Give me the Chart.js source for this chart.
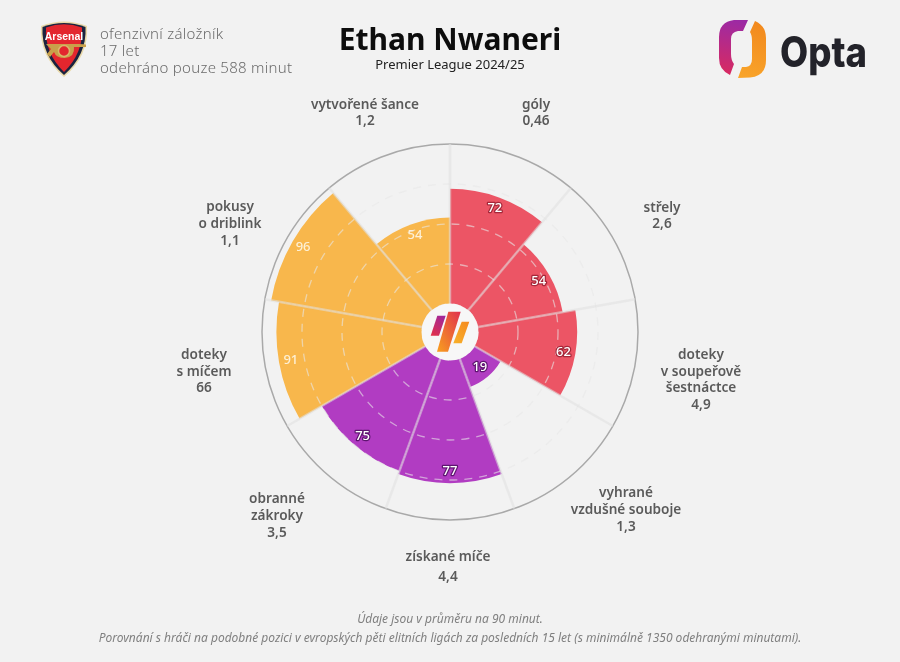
<!DOCTYPE html>
<html lang="cs"><head><meta charset="utf-8">
<script src="https://cdn.jsdelivr.net/npm/chart.js@4"></script>
<style>
html,body{margin:0;padding:0;background:#f2f2f2;width:900px;height:662px;overflow:hidden}
#wrap{position:relative;width:900px;height:662px}
canvas{position:absolute;left:0;top:0}
.t{position:absolute;white-space:nowrap;font-family:"Noto Sans",sans-serif}
svg{position:absolute;left:0;top:0;pointer-events:none}
</style></head><body>
<div id="wrap">
<canvas id="c" width="900" height="662"></canvas>
<svg width="900" height="662" viewBox="0 0 900 662">
<defs>
<linearGradient id="g1" x1="0.800" y1="0" x2="0.200" y2="1"><stop offset="0" stop-color="#a0279c"/><stop offset="1" stop-color="#e0304c"/></linearGradient>
<linearGradient id="g2" x1="1" y1="0" x2="0" y2="1"><stop offset="0" stop-color="#e0304c"/><stop offset="1" stop-color="#f9a01e"/></linearGradient>
<linearGradient id="g3" x1="1" y1="0" x2="0" y2="1"><stop offset="0" stop-color="#f58a20"/><stop offset="1" stop-color="#f8b22a"/></linearGradient>
<linearGradient id="o1" gradientUnits="userSpaceOnUse" x1="735" y1="20" x2="725" y2="75"><stop offset="0" stop-color="#9c2aa4"/><stop offset="1" stop-color="#d92a60"/></linearGradient>
<linearGradient id="o2" gradientUnits="userSpaceOnUse" x1="760" y1="25" x2="740" y2="78"><stop offset="0" stop-color="#f28a1e"/><stop offset="1" stop-color="#f9a52a"/></linearGradient>
</defs>
<circle cx="450" cy="332" r="28.5" fill="#f7f7f7"/>
<polygon points="437.300,315.700 445.700,315.700 439,335.700 430.700,335.700" fill="url(#g1)"/>
<polygon points="448.300,311.700 460.700,311.700 448,351.700 437,351.700" fill="url(#g2)"/>
<polygon points="461.700,321.700 469.300,321.700 461.700,343.300 453.300,343.300" fill="url(#g3)"/>
<!-- Arsenal crest -->
<path d="M41 26 Q64 17 87 26 Q89 56 64 77 Q39 56 41 26Z" fill="#e9d9a8"/>
<path d="M42.500 27 Q64 19 85.500 27 Q87 55 64 75 Q41 55 42.500 27Z" fill="#1b2340"/>
<path d="M46 27.500 Q64 21 82 27.500 Q83.500 53 64 72 Q44.500 53 46 27.500Z" fill="#e3262e"/>
<path d="M46 44 H79 L86 44.500 V47 H74 Q75 57 65 58 Q56 58 54 52 L50 57 L47 54 L51 49 Z" fill="#c9a04a"/>
<circle cx="64" cy="51" r="5.500" fill="#e3262e" stroke="#d9b86a" stroke-width="1.500"/>
<!-- Opta mark -->
<path d="M748 20 L743 31 H738 Q731 32 731 39 V54 Q731 60 734 64 L730 75 Q719 70 719 58 V37 Q719 22 734 20 Z" fill="url(#o1)"/>
<path d="M755 21 Q766 26 766 38 V60 Q766 76 750 77.500 L738 78 L742 67 H746 Q752 66 752 59 V41 Q752 35 750 32 Z" fill="url(#o2)"/>
<text x="780" y="67" font-family="Inter,'Noto Sans',sans-serif" font-weight="800" font-size="42" fill="#23232a" textLength="87" lengthAdjust="spacingAndGlyphs">Opta</text>
<text x="64" y="39.500" text-anchor="middle" font-family="'Liberation Sans',sans-serif" font-weight="700" font-size="10.500" fill="#ffffff">Arsenal</text>
</svg>
<div class="t" style="left:100px;top:25px;font-size:15px;line-height:17px;color:#6b6b6b;font-weight:300;letter-spacing:.27px">ofenzivní záložník<br>17 let<br>odehráno pouze 588 minut</div>
<div class="t" style="left:240px;width:420px;text-align:center;top:18px;font-size:30px;line-height:42px;font-weight:700;color:#0d0d0d">Ethan Nwaneri</div>
<div class="t" style="left:240px;width:420px;text-align:center;top:55px;font-size:13px;line-height:18px;color:#222">Premier League 2024/25</div>
<div class="t" style="left:0;width:900px;text-align:center;top:611px;font-size:12px;line-height:16px;font-style:italic;color:#808080">Údaje jsou v průměru na 90 minut.</div>
<div class="t" style="left:0;width:900px;text-align:center;top:630px;font-size:12px;line-height:16px;font-style:italic;color:#808080">Porovnání s hráči na podobné pozici v evropských pěti elitních ligách za posledních 15 let (s minimálně 1350 odehranými minutami).</div>
</div>
<script>
const categories = [["góly"],["střely"],["doteky","v soupeřově","šestnáctce"],["vyhrané","vzdušné souboje"],["získané míče"],["obranné","zákroky"],["doteky","s míčem"],["pokusy","o driblink"],["vytvořené šance"]];
const perMatchValues = ["0,46","2,6","4,9","1,3","4,4","3,5","66","1,1","1,2"];
const percentiles = [72,54,62,19,77,75,91,96,54];
const RED="#ec5565", PURPLE="#b13cc2", YELLOW="#f8b74c";
const sliceColors = [RED,RED,RED,PURPLE,PURPLE,PURPLE,YELLOW,YELLOW,YELLOW];
const haloColors = ["#a5283a","#a5283a","#a5283a","#5e1470","#5e1470","#5e1470",null,null,null];
const labelAnchors = [[536,105,16.3],[662,208,16.3],[701,355,16.7],[626,493,17],[448,557,20],[277,499,17],[204,355,16.7],[230,207,17],[365,105,16.3]];

const overlay = {
  id:'overlay',
  afterDraw(chart){
    const ctx=chart.ctx, r=chart.scales.r, arcs=chart.getDatasetMeta(0).data;
    ctx.save();
    ctx.textAlign='center'; ctx.textBaseline='middle';
    percentiles.forEach((v,i)=>{
      const mid=(arcs[i].startAngle+arcs[i].endAngle)/2;
      const d=r.getDistanceFromCenterForValue(v)-12;
      const x=r.xCenter+Math.cos(mid)*d, y=r.yCenter+Math.sin(mid)*d;
      ctx.font='500 13px "Noto Sans",sans-serif';
      if(haloColors[i]){ctx.strokeStyle=haloColors[i];ctx.lineWidth=2.5;ctx.lineJoin='round';ctx.strokeText(v,x,y);}
      ctx.fillStyle=haloColors[i]?'#ffffff':'#fdf0d5';
      ctx.fillText(v,x,y);
    });
    ctx.fillStyle='#5a5a5a';
    categories.forEach((lines,i)=>{
      const [x,y,lh]=labelAnchors[i];
      ctx.font='600 13.6px "Noto Sans",sans-serif';
      lines.concat(perMatchValues[i]).forEach((s,j)=>ctx.fillText(s,x,y+j*lh));
    });
    ctx.restore();
  }
};

new Chart(document.getElementById('c'),{
  type:'polarArea',
  data:{labels:categories.map(l=>l.join(' ')),datasets:[{data:percentiles,backgroundColor:sliceColors,borderWidth:0}]},
  plugins:[overlay],
  options:{
    responsive:false,animation:false,
    layout:{padding:{left:261.5,right:261.5,top:143.5,bottom:141.5}},
    plugins:{legend:{display:false},tooltip:{enabled:false}},
    scales:{r:{
      min:-17.5,max:100,
      startAngle:0,
      ticks:{display:false,stepSize:25},
      angleLines:{display:true,color:'rgba(224,224,224,.55)',lineWidth:2.5},
      pointLabels:{display:false},
      grid:{z:1,circular:true,
        color:c=>c.tick&&c.tick.value===100?'#a9a9a9':'rgba(232,232,232,.6)',
        lineWidth:c=>c.tick&&c.tick.value===100?1.5:1.3},
      border:{dash:c=>c.tick&&c.tick.value===100?[]:[8,7]}
    }}
  }
});
</script>
</body></html>
